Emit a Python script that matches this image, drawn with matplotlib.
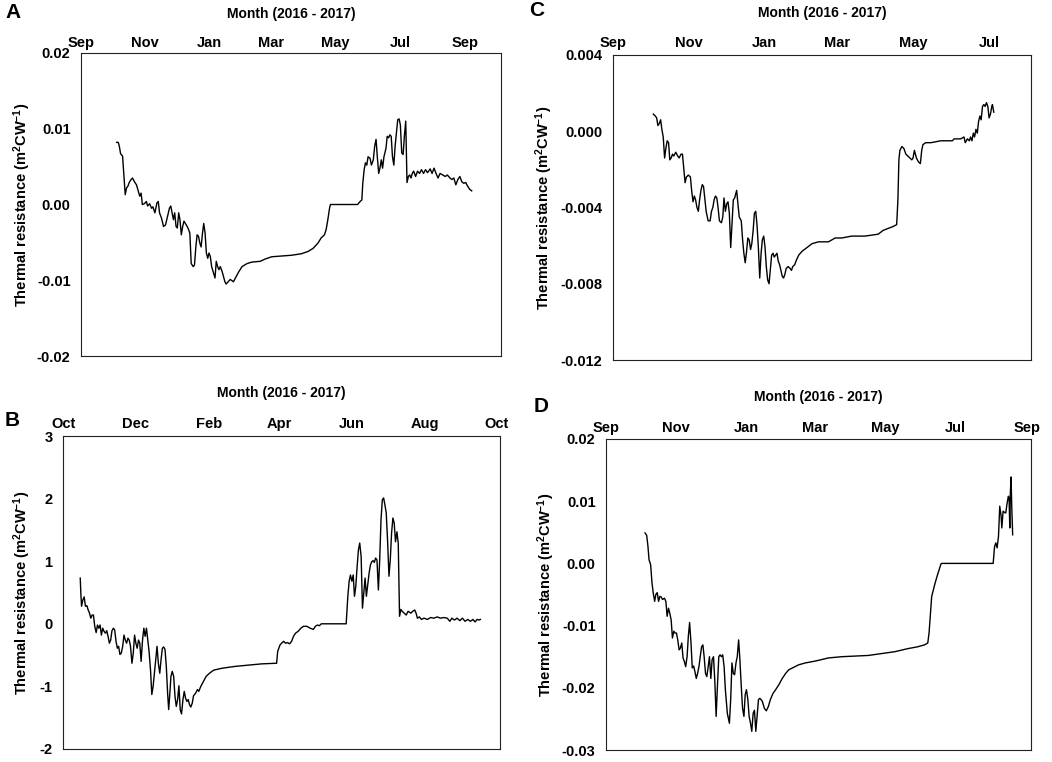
import datetime as dt
import matplotlib
matplotlib.use('Agg')
import matplotlib.pyplot as plt
from matplotlib.ticker import FormatStrFormatter

plt.rcParams['font.family'] = ['Liberation Sans', 'DejaVu Sans']
plt.rcParams['font.weight'] = 'bold'
plt.rcParams['axes.unicode_minus'] = False
plt.rcParams['mathtext.fontset'] = 'custom'
plt.rcParams['mathtext.rm'] = 'Liberation Sans:bold'
plt.rcParams['mathtext.it'] = 'Liberation Sans:bold'
plt.rcParams['mathtext.bf'] = 'Liberation Sans:bold'

# ---- data (days since the first labelled month, thermal resistance) ----
# panel A: start 1 Sep 2016
a_day = [33.9, 35.4, 36.4, 37.6, 39.5, 40.8, 42.0, 43.3, 44.5, 45.8, 47.6, 48.9, 50.8, 52.7, 54.5,
         55.8, 57.1, 58.3, 60.2, 62.1, 63.3, 65.2, 67.1, 68.3, 70.2, 72.1, 73.4, 74.6, 76.5, 78.4,
         80.3, 82.1, 84.0, 85.3, 86.5, 87.8, 89.0, 90.3, 91.5, 92.8, 94.0, 95.3, 96.6, 97.8, 99.1,
         100.9, 102.2, 103.4, 104.7, 106.6, 107.8, 109.1, 110.3, 111.6, 112.9, 114.1, 115.4, 116.6,
         117.9, 119.1, 120.4, 121.6, 122.9, 124.1, 126.0, 127.3, 128.5, 129.8, 131.0, 132.3, 134.2,
         135.4, 136.7, 137.9, 139.8, 141.7, 142.9, 144.8, 146.7, 149.8, 153.0, 157.7, 162.4, 170.2,
         174.9, 181.2, 190.6, 200.0, 209.4, 215.7, 220.4, 225.1, 228.2, 231.3, 232.9, 234.5, 236.1,
         237.0, 262.7, 265.2, 266.8, 267.7, 269.0, 270.2, 271.5, 272.7, 274.6, 275.9, 277.7, 279.0,
         280.3, 281.5, 282.8, 284.0, 285.3, 286.5, 287.8, 289.7, 290.9, 292.2, 293.4, 294.7, 295.9,
         297.2, 298.4, 299.7, 300.9, 302.2, 303.4, 304.7, 306.0, 307.2, 308.5, 309.1, 309.7, 311.0,
         312.2, 313.5, 314.7, 316.0, 317.9, 319.7, 321.6, 323.5, 325.4, 327.3, 329.2, 331.7, 333.5,
         335.4, 337.3, 339.2, 341.1, 343.6, 346.1, 348.0, 350.5, 352.4, 354.2, 356.1, 358.0, 359.9,
         361.8, 363.6, 365.5, 367.4, 369.3, 371.2]
a_val = [0.0082, 0.0082, 0.0077, 0.0067, 0.0064, 0.0037, 0.0013, 0.0022, 0.0024, 0.0029, 0.0033,
         0.0035, 0.0030, 0.0026, 0.0017, 0.0011, 0.0015, 0.0000, 0.0001, 0.0004, -0.0002, 0.0001,
         -0.0005, -0.0003, -0.0011, 0.0002, 0.0004, -0.0011, -0.0018, -0.0029, -0.0027, -0.0016,
         -0.0005, -0.0002, -0.0011, -0.0020, -0.0011, -0.0029, -0.0031, -0.0011, -0.0020, -0.0040,
         -0.0029, -0.0022, -0.0025, -0.0029, -0.0033, -0.0038, -0.0078, -0.0082, -0.0080, -0.0056,
         -0.0040, -0.0042, -0.0051, -0.0056, -0.0038, -0.0025, -0.0038, -0.0064, -0.0071, -0.0064,
         -0.0069, -0.0082, -0.0091, -0.0097, -0.0075, -0.0082, -0.0086, -0.0082, -0.0089, -0.0095,
         -0.0102, -0.0105, -0.0102, -0.0099, -0.0100, -0.0102, -0.0097, -0.0089, -0.0082, -0.0078,
         -0.0076, -0.0075, -0.0072, -0.0069, -0.0068, -0.0067, -0.0065, -0.0062, -0.0058, -0.0051,
         -0.0044, -0.0040, -0.0033, -0.0020, -0.0005, 0.0000, 0.0000, 0.0004, 0.0006, 0.0028, 0.0046,
         0.0055, 0.0052, 0.0063, 0.0061, 0.0052, 0.0059, 0.0077, 0.0086, 0.0063, 0.0041, 0.0048,
         0.0059, 0.0048, 0.0063, 0.0074, 0.0090, 0.0088, 0.0092, 0.0090, 0.0063, 0.0052, 0.0077,
         0.0096, 0.0112, 0.0113, 0.0105, 0.0068, 0.0066, 0.0090, 0.0110, 0.0072, 0.0029, 0.0037,
         0.0039, 0.0035, 0.0041, 0.0044, 0.0037, 0.0044, 0.0041, 0.0046, 0.0041, 0.0046, 0.0042,
         0.0047, 0.0041, 0.0048, 0.0041, 0.0035, 0.0041, 0.0039, 0.0037, 0.0039, 0.0035, 0.0033,
         0.0035, 0.0026, 0.0033, 0.0037, 0.0030, 0.0028, 0.0029, 0.0024, 0.0020, 0.0018]

# panel B: start 1 Oct 2016
b_day = [14.5, 15.0, 15.6, 16.7, 17.8, 18.9, 20.1, 21.2, 22.3, 23.4, 24.5, 25.6, 26.7, 27.9, 29.0,
         30.1, 31.2, 32.3, 33.4, 34.5, 35.7, 36.8, 37.9, 39.0, 40.1, 41.2, 42.4, 43.5, 44.6, 45.7,
         46.8, 47.9, 49.0, 50.2, 51.3, 52.4, 53.5, 54.6, 55.7, 56.8, 58.0, 59.1, 60.2, 61.3, 62.4,
         63.5, 64.6, 65.7, 66.9, 68.0, 69.1, 70.2, 71.3, 72.4, 73.6, 74.7, 75.8, 76.9, 78.0, 79.1,
         80.2, 81.4, 82.5, 83.6, 84.7, 85.8, 86.9, 88.0, 88.9, 89.7, 90.8, 91.9, 93.1, 94.2, 95.3,
         96.4, 97.5, 98.6, 99.7, 100.9, 102.0, 103.1, 104.2, 105.3, 106.4, 107.5, 108.7, 109.8,
         111.5, 113.1, 114.2, 115.9, 118.1, 120.4, 123.2, 126.8, 133.7, 144.9, 156.0, 167.2, 179.7,
         180.6, 182.5, 183.9, 185.6, 187.2, 188.9, 190.6, 192.3, 193.9, 195.6, 197.8, 200.1, 202.3,
         205.1, 207.9, 210.6, 212.3, 214.0, 215.7, 217.3, 238.2, 239.6, 240.7, 241.8, 243.0, 244.1,
         245.2, 246.3, 247.4, 248.5, 249.6, 250.8, 251.9, 253.0, 254.1, 255.2, 256.3, 257.5, 258.6,
         259.7, 260.8, 261.9, 263.0, 264.1, 265.3, 266.4, 267.5, 268.6, 269.7, 270.8, 271.9, 273.0,
         274.2, 275.3, 276.4, 277.5, 278.6, 279.7, 280.9, 282.0, 283.1, 284.2, 285.3, 287.0, 288.7,
         290.3, 292.6, 294.2, 295.9, 297.0, 298.1, 299.8, 301.5, 303.7, 306.5, 309.3, 312.0, 314.8,
         317.6, 320.4, 323.2, 325.4, 327.1, 329.3, 331.5, 333.8, 336.0, 338.2, 340.5, 342.7, 344.9,
         346.6, 348.3, 349.9, 351.1]
b_val = [0.73, 0.49, 0.28, 0.38, 0.43, 0.28, 0.29, 0.22, 0.17, 0.09, 0.14, 0.14, -0.04, -0.14, -0.02,
         -0.07, -0.02, -0.18, -0.07, -0.12, -0.15, -0.11, -0.20, -0.31, -0.26, -0.11, -0.07, -0.10,
         -0.28, -0.39, -0.36, -0.49, -0.47, -0.36, -0.18, -0.26, -0.31, -0.23, -0.26, -0.36, -0.63,
         -0.47, -0.18, -0.31, -0.39, -0.26, -0.31, -0.60, -0.26, -0.07, -0.20, -0.07, -0.26, -0.44,
         -0.73, -1.13, -1.00, -0.79, -0.57, -0.36, -0.63, -0.79, -0.57, -0.39, -0.37, -0.41, -0.68,
         -1.11, -1.37, -1.16, -0.84, -0.76, -0.84, -1.16, -1.32, -1.21, -0.99, -1.37, -1.44, -1.21,
         -1.08, -1.19, -1.24, -1.21, -1.29, -1.33, -1.27, -1.15, -1.11, -1.05, -1.08, -1.00, -0.92,
         -0.84, -0.79, -0.74, -0.71, -0.68, -0.66, -0.64, -0.63, -0.44, -0.34, -0.31, -0.28, -0.31,
         -0.30, -0.32, -0.28, -0.20, -0.15, -0.12, -0.07, -0.04, -0.04, -0.07, -0.09, -0.04, -0.02,
         -0.03, 0.00, 0.00, 0.44, 0.68, 0.78, 0.68, 0.78, 0.44, 0.60, 0.91, 1.18, 1.29, 1.07, 0.25,
         0.49, 0.73, 0.44, 0.62, 0.81, 0.94, 0.99, 1.01, 0.98, 1.05, 1.02, 0.54, 1.02, 1.66, 1.98,
         2.01, 1.90, 1.77, 1.34, 0.76, 1.02, 1.45, 1.69, 1.61, 1.31, 1.47, 1.29, 0.12, 0.23, 0.20,
         0.17, 0.14, 0.20, 0.17, 0.20, 0.22, 0.17, 0.09, 0.11, 0.07, 0.09, 0.07, 0.10, 0.09, 0.11,
         0.09, 0.10, 0.09, 0.04, 0.09, 0.06, 0.09, 0.05, 0.09, 0.04, 0.07, 0.04, 0.07, 0.03, 0.07,
         0.06, 0.07]

# panel C: start 1 Sep 2016
c_day = [32.5, 34.1, 35.2, 36.2, 37.3, 38.4, 39.4, 40.5, 41.6, 42.6, 43.7, 44.8, 45.8, 46.9, 48.0,
         49.0, 50.6, 52.2, 53.3, 54.9, 56.0, 57.0, 58.1, 59.2, 60.8, 62.4, 63.4, 64.5, 65.6, 66.6,
         67.7, 68.8, 69.8, 70.9, 72.0, 73.0, 74.1, 75.1, 76.7, 78.3, 79.4, 80.5, 81.5, 82.6, 83.7,
         84.7, 85.8, 87.4, 88.5, 89.5, 90.6, 91.7, 92.7, 93.8, 94.9, 95.9, 97.0, 98.1, 99.7, 100.7,
         101.8, 103.4, 104.5, 105.5, 106.6, 107.7, 108.7, 109.8, 110.9, 111.9, 113.0, 114.0, 115.1,
         116.2, 117.2, 118.3, 119.4, 120.4, 121.5, 122.6, 123.6, 124.7, 125.8, 126.8, 127.9, 129.0,
         130.0, 131.1, 132.2, 133.2, 134.3, 135.4, 136.4, 137.5, 138.6, 139.6, 141.2, 142.8, 143.9,
         144.9, 146.5, 147.6, 149.7, 152.4, 156.4, 160.4, 165.7, 173.7, 179.1, 184.4, 192.4, 203.1,
         213.8, 217.8, 221.7, 225.7, 228.7, 229.7, 230.5, 231.3, 232.9, 234.5, 236.1, 237.7, 239.3,
         240.9, 241.9, 243.0, 244.6, 246.2, 247.8, 248.9, 249.9, 252.1, 256.3, 264.3, 273.6, 275.0,
         280.3, 283.0, 284.0, 285.7, 287.3, 288.3, 289.4, 290.5, 291.5, 292.6, 293.7, 294.7, 295.8,
         296.8, 297.9, 299.0, 300.0, 301.1, 302.2, 303.2, 304.3, 305.4, 305.9, 307.0]
c_val = [0.0009, 0.0008, 0.0007, 0.0003, 0.0004, 0.0006, 0.0001, -0.0003, -0.0014, -0.0009, -0.0005,
         -0.0006, -0.0015, -0.0014, -0.0012, -0.0013, -0.0011, -0.0013, -0.0014, -0.0012, -0.0012,
         -0.0019, -0.0027, -0.0024, -0.0023, -0.0024, -0.0031, -0.0037, -0.0034, -0.0036, -0.0040,
         -0.0042, -0.0036, -0.0031, -0.0028, -0.0029, -0.0036, -0.0042, -0.0047, -0.0047, -0.0042,
         -0.0040, -0.0036, -0.0034, -0.0035, -0.0040, -0.0047, -0.0048, -0.0045, -0.0035, -0.0042,
         -0.0038, -0.0037, -0.0043, -0.0061, -0.0049, -0.0036, -0.0035, -0.0031, -0.0038, -0.0045,
         -0.0047, -0.0057, -0.0064, -0.0069, -0.0063, -0.0056, -0.0057, -0.0062, -0.0059, -0.0052,
         -0.0043, -0.0042, -0.0050, -0.0061, -0.0077, -0.0064, -0.0057, -0.0055, -0.0061, -0.0071,
         -0.0078, -0.0080, -0.0073, -0.0065, -0.0064, -0.0066, -0.0065, -0.0064, -0.0068, -0.0070,
         -0.0073, -0.0076, -0.0077, -0.0075, -0.0072, -0.0071, -0.0072, -0.0073, -0.0071, -0.0070,
         -0.0068, -0.0065, -0.0063, -0.0061, -0.0059, -0.0058, -0.0058, -0.0056, -0.0056, -0.0055,
         -0.0055, -0.0054, -0.0052, -0.0051, -0.0050, -0.0049, -0.0036, -0.0015, -0.0010, -0.0008,
         -0.0009, -0.0012, -0.0013, -0.0014, -0.0015, -0.0014, -0.0010, -0.0014, -0.0016, -0.0017,
         -0.0010, -0.0007, -0.0006, -0.0006, -0.0005, -0.0005, -0.0004, -0.0004, -0.0003, -0.0006,
         -0.0004, -0.0005, -0.0003, -0.0005, -0.0001, -0.0003, 0.0001, -0.0001, 0.0005, 0.0008,
         0.0006, 0.0013, 0.0014, 0.0013, 0.0015, 0.0013, 0.0007, 0.0009, 0.0013, 0.0014, 0.0010]

# panel D: start 1 Sep 2016
d_day = [33.8, 35.3, 36.4, 37.3, 38.7, 39.9, 41.0, 42.2, 43.2, 44.4, 45.6, 46.7, 47.9, 49.0, 50.7,
         51.9, 53.0, 54.2, 55.3, 56.5, 57.6, 58.8, 59.9, 61.1, 62.2, 63.4, 64.5, 65.7, 66.8, 68.0,
         69.1, 70.3, 71.4, 72.5, 73.7, 74.8, 76.0, 77.1, 78.3, 79.4, 80.6, 81.7, 82.9, 84.0, 85.1,
         86.3, 87.4, 88.6, 89.7, 90.9, 92.0, 93.2, 94.3, 95.5, 96.6, 97.8, 98.9, 100.1, 101.2, 102.4,
         103.5, 105.2, 107.0, 108.1, 109.2, 110.4, 111.5, 112.7, 113.8, 115.0, 116.1, 117.3, 118.4,
         119.6, 120.7, 121.8, 123.0, 124.1, 125.3, 126.4, 127.6, 128.7, 129.9, 131.0, 132.2, 133.3,
         134.5, 135.6, 137.3, 139.0, 140.8, 142.5, 144.8, 147.1, 149.9, 152.8, 155.7, 158.5, 162.8,
         167.1, 172.9, 181.5, 192.9, 204.4, 215.9, 227.4, 238.8, 250.3, 261.8, 270.4, 276.1, 279.0,
         280.1, 281.3, 282.4, 283.5, 285.3, 287.0, 288.7, 290.4, 291.0, 335.7, 336.9, 338.0, 339.1,
         340.3, 341.4, 342.6, 343.2, 344.3, 345.5, 346.6, 347.8, 348.9, 349.5, 350.1, 350.6, 351.2,
         351.8, 352.6]
d_val = [0.0049, 0.0045, 0.0027, 0.0006, -0.0002, -0.0032, -0.0048, -0.0061, -0.0050, -0.0047,
         -0.0061, -0.0053, -0.0054, -0.0058, -0.0056, -0.0061, -0.0085, -0.0072, -0.0080, -0.0091,
         -0.0120, -0.0109, -0.0112, -0.0112, -0.0123, -0.0139, -0.0136, -0.0128, -0.0152, -0.0158,
         -0.0166, -0.0150, -0.0117, -0.0095, -0.0128, -0.0168, -0.0165, -0.0174, -0.0185, -0.0177,
         -0.0166, -0.0150, -0.0134, -0.0131, -0.0150, -0.0177, -0.0182, -0.0166, -0.0150, -0.0185,
         -0.0155, -0.0150, -0.0187, -0.0246, -0.0198, -0.0150, -0.0147, -0.0150, -0.0147, -0.0166,
         -0.0203, -0.0241, -0.0257, -0.0219, -0.0160, -0.0177, -0.0179, -0.0160, -0.0150, -0.0123,
         -0.0155, -0.0198, -0.0233, -0.0246, -0.0211, -0.0203, -0.0219, -0.0246, -0.0257, -0.0270,
         -0.0241, -0.0236, -0.0270, -0.0246, -0.0219, -0.0217, -0.0219, -0.0222, -0.0233, -0.0237,
         -0.0230, -0.0219, -0.0209, -0.0203, -0.0195, -0.0185, -0.0177, -0.0171, -0.0167, -0.0163,
         -0.0160, -0.0157, -0.0152, -0.0150, -0.0149, -0.0148, -0.0145, -0.0142, -0.0137, -0.0134,
         -0.0131, -0.0128, -0.0112, -0.0080, -0.0053, -0.0045, -0.0032, -0.0021, -0.0011, -0.0001,
         0.0000, 0.0000, 0.0027, 0.0033, 0.0025, 0.0043, 0.0092, 0.0076, 0.0057, 0.0084, 0.0082,
         0.0081, 0.0097, 0.0108, 0.0105, 0.0057, 0.0113, 0.0139, 0.0092, 0.0046]

# month tick labels
sep_labels = ['Sep', 'Nov', 'Jan', 'Mar', 'May', 'Jul', 'Sep']
oct_labels = ['Oct', 'Dec', 'Feb', 'Apr', 'Jun', 'Aug', 'Oct']


def month_days(start, n):
    # day offsets of every second month start, from start
    out = []
    y, m = start.year, start.month
    for i in range(n):
        out.append((dt.date(y, m, 1) - start).days)
        m += 2
        if m > 12:
            m -= 12
            y += 1
    return out


def panel(fig, rect, day, val, start, labels, xlim, ylim, yticks, fmt, ylab_x, tpad, xpad):
    ax = fig.add_axes(rect)
    ax.plot(day, val, color='black', lw=1.0)
    ax.set_xlim(*xlim)
    ax.set_ylim(*ylim)
    ax.xaxis.tick_top()
    ax.set_xticks(month_days(start, len(labels)))
    ax.set_xticklabels(labels)
    ax.set_yticks(yticks)
    ax.yaxis.set_major_formatter(FormatStrFormatter(fmt))
    ax.tick_params(axis='both', length=0, labelsize=10.5)
    ax.tick_params(axis='x', pad=xpad)
    ax.tick_params(axis='y', pad=7.5)
    ax.xaxis.set_label_position('top')
    ax.set_xlabel('Month (2016 - 2017)', fontsize=10, fontweight='bold', labelpad=tpad)
    ax.set_ylabel(r'Thermal resistance (m$^{2}$CW$^{-1}$)', fontsize=10.5, fontweight='bold')
    ax.yaxis.set_label_coords(ylab_x, 0.5)
    for s in ax.spines.values():
        s.set_linewidth(0.8)
        s.set_color('#222222')
    return ax


fig = plt.figure(figsize=(10.52, 7.62), dpi=100)
W, H = 1052, 762


def rect(l, r, t, b):
    return [l / W, 1 - b / H, (r - l) / W, (b - t) / H]


sep16 = dt.date(2016, 9, 1)
oct16 = dt.date(2016, 10, 1)

panel(fig, rect(81, 501, 53, 356), a_day, a_val, sep16, sep_labels, (3.8, 399), (-0.02, 0.02),
      [-0.02, -0.01, 0.0, 0.01, 0.02], '%.2f', -0.115, 13, 2.2)
panel(fig, rect(613, 1031, 55, 360), c_day, c_val, sep16, sep_labels[:6], (3.2, 337), (-0.012, 0.004),
      [-0.012, -0.008, -0.004, 0.0, 0.004], '%.3f', -0.139, 14, 3.5)
panel(fig, rect(63, 500, 436, 749), b_day, b_val, oct16, oct_labels, (2.5, 367.6), (-2, 3),
      [-2, -1, 0, 1, 2, 3], '%d', -0.068, 14.5, 3.5)
panel(fig, rect(606, 1031, 439, 750), d_day, d_val, sep16, sep_labels, (3.4, 368.5), (-0.03, 0.02),
      [-0.03, -0.02, -0.01, 0.0, 0.01, 0.02], '%.2f', -0.115, 14, 3.0)

for letter, x, y in [('A', 13, 12.5), ('C', 537, 11), ('B', 12, 420), ('D', 541, 407)]:
    fig.text(x / W, 1 - y / H, letter, fontsize=15, fontweight='bold', ha='center', va='center')

fig.savefig('out.png', dpi=100)
